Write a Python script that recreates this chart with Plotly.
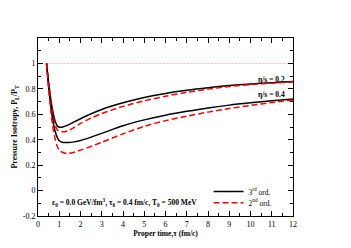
import plotly.graph_objects as go

tau = [0.4, 0.5, 0.6, 0.7, 0.8, 0.9, 1.0, 1.2, 1.4, 1.7, 2.0, 2.5, 3.0, 4.0, 5.0, 6.0, 7.0, 8.0, 9.0, 10.0, 11.0, 12.0]

third_02 = [1.0, 0.85, 0.72, 0.62, 0.55, 0.51, 0.498, 0.502, 0.515, 0.54, 0.565, 0.604, 0.638, 0.69, 0.732, 0.764, 0.789, 0.809, 0.826, 0.839, 0.849, 0.857]
second_02 = [1.0, 0.84, 0.70, 0.59, 0.52, 0.48, 0.468, 0.462, 0.47, 0.497, 0.528, 0.57, 0.606, 0.662, 0.706, 0.742, 0.773, 0.798, 0.818, 0.833, 0.845, 0.854]
third_04 = [1.0, 0.82, 0.67, 0.55, 0.47, 0.42, 0.392, 0.378, 0.378, 0.383, 0.393, 0.42, 0.45, 0.51, 0.556, 0.593, 0.623, 0.65, 0.672, 0.69, 0.706, 0.72]
second_04 = [1.0, 0.80, 0.63, 0.50, 0.41, 0.35, 0.318, 0.297, 0.292, 0.302, 0.318, 0.348, 0.38, 0.446, 0.505, 0.55, 0.585, 0.617, 0.645, 0.67, 0.692, 0.712]

ref_tau = [0.4, 12.0]
ref_val = [1.0, 1.0]

y_tickvals = [-0.2, 0, 0.2, 0.4, 0.6, 0.8, 1.0, 1.2]
y_ticktext = ["-0.2", "0", "0.2", "0.4", "0.6", "0.8", "1", ""]
x_tickvals = list(range(0, 13))
x_ticktext = [str(v) for v in x_tickvals]

FONT = "Liberation Serif"

fig = go.Figure()
fig.add_trace(go.Scatter(x=ref_tau, y=ref_val, mode="lines", showlegend=False,
                         line=dict(color="rgba(220,110,110,0.8)", width=1, dash="1px,2px")))
fig.add_trace(go.Scatter(x=tau, y=third_02, mode="lines", name="3<sup>rd</sup> ord.", legend="legend",
                         line=dict(color="black", width=1.5, shape="spline", smoothing=0.8)))
fig.add_trace(go.Scatter(x=tau, y=second_02, mode="lines", name="2<sup>nd</sup> ord.", legend="legend2",
                         line=dict(color="red", width=1.5, dash="6px,3px", shape="spline", smoothing=0.8)))
fig.add_trace(go.Scatter(x=tau, y=third_04, mode="lines", showlegend=False,
                         line=dict(color="black", width=1.5, shape="spline", smoothing=0.8)))
fig.add_trace(go.Scatter(x=tau, y=second_04, mode="lines", showlegend=False,
                         line=dict(color="red", width=1.5, dash="6px,3px", shape="spline", smoothing=0.8)))

axis_common = dict(showgrid=False, zeroline=False, showline=True, linecolor="black", linewidth=1,
                   mirror="allticks", ticks="inside", ticklen=5, tickcolor="black", tickwidth=1,
                   automargin=False,
                   tickfont=dict(family=FONT, size=8, color="black"))

fig.update_xaxes(range=[0, 12], tickvals=x_tickvals, ticktext=x_ticktext,
                 minor=dict(ticks="inside", ticklen=3, dtick=0.5, tickcolor="black"),
                 title=dict(text="<b>Proper time,τ (fm/c)</b>", font=dict(family=FONT, size=7.5, color="black"), standoff=3),
                 **axis_common)
fig.update_yaxes(range=[-0.2, 1.2], tickvals=y_tickvals, ticktext=y_ticktext,
                 minor=dict(ticks="inside", ticklen=3, dtick=0.1, tickcolor="black"),
                 title=dict(text="<b>Pressure Isotropy, P<sub>L</sub>/P<sub>T</sub></b>", font=dict(family=FONT, size=8, color="black"), standoff=3),
                 **axis_common)

fig.add_annotation(x=0.975, y=0.877, xref="paper", yref="y", xanchor="right", yanchor="middle",
                   text="<b>η/s = 0.2</b>", showarrow=False, font=dict(family=FONT, size=7.5, color="black"))
fig.add_annotation(x=0.975, y=0.757, xref="paper", yref="y", xanchor="right", yanchor="middle",
                   text="<b>η/s = 0.4</b>", showarrow=False, font=dict(family=FONT, size=7.5, color="black"))
fig.add_annotation(x=0.046, y=-0.095, xref="paper", yref="y", xanchor="left", yanchor="middle",
                   text="<b>ε<sub>0</sub> = 0.0 GeV/fm<sup>3</sup>, τ<sub>0</sub> = 0.4 fm/c, T<sub>0</sub> = 500 MeV</b>",
                   showarrow=False, font=dict(family=FONT, size=7.5, color="black"))

leg_common = dict(x=0.669, xanchor="left", yanchor="middle", bgcolor="rgba(0,0,0,0)",
                  font=dict(family=FONT, size=7.5, color="black"), itemwidth=30)

fig.update_layout(
    width=343, height=240,
    margin=dict(l=30, r=58, t=30, b=32),
    paper_bgcolor="white", plot_bgcolor="white",
    showlegend=True,
    legend=dict(y=0.137, **leg_common),
    legend2=dict(y=0.075, **leg_common),
)

fig.write_html("out.html")
